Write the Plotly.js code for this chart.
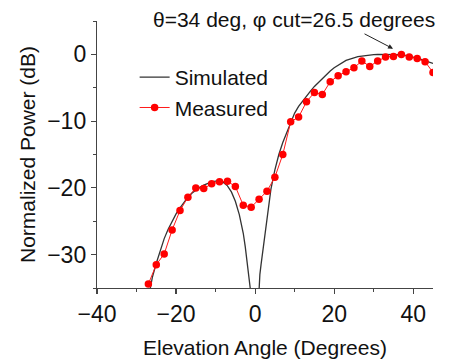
<!DOCTYPE html>
<html>
<head>
<meta charset="utf-8">
<script src="https://cdn.plot.ly/plotly-3.0.1.min.js"></script>
<style>html,body{margin:0;padding:0;background:#fff;}#chart{width:454px;height:360px;}</style>
</head>
<body>
<div id="chart"></div>
<script>
// Simulated pattern (continuous curve)
const simAngle = [-26.5,-26,-25,-24,-23,-22,-21,-20,-19,-18,-17,-16,-15,-14,-13,-12,-11,-10,-9,-8,-7,-6,-5,-4,-3,-2.5,-2,-1.5,-1.2,-0.8,-0.4,-0.2,0.2,0.6,0.9,1.2,1.5,2,2.5,3,3.5,4,5,6,7,8,9,10,11,12,13,14,15,16,17,18,19,20,21,22,23,24,25,26,27,28,29,30,31,32,33,34,35,36,37,38,39,40,41,42,43,44,45];
const simPower = [-35,-33.4,-31.3,-29.3,-27.6,-26.2,-25.0,-23.9,-23.0,-22.2,-21.4,-20.8,-20.3,-19.9,-19.6,-19.3,-19.1,-19.0,-19.0,-19.2,-19.7,-20.6,-22.0,-24.0,-26.8,-28.8,-31.0,-33.5,-35.2,-38,-44,-55,-50,-40,-35.2,-33,-31.5,-29.2,-26.5,-24.2,-22.0,-20.2,-17.3,-15.0,-13.2,-11.7,-10.2,-8.8,-7.8,-7.0,-6.2,-5.5,-4.8,-4.2,-3.6,-3.0,-2.5,-2.0,-1.6,-1.2,-0.9,-0.7,-0.5,-0.35,-0.25,-0.15,-0.08,-0.03,0,0,0,0,0,-0.02,-0.05,-0.15,-0.25,-0.4,-0.55,-0.75,-0.95,-1.15,-1.35];

// Measured points
const measAngle = [-27,-25,-23,-21,-19,-17,-15,-13,-11,-9,-7,-5,-3,-1,1,3,5,7,9,11,13,15,17,19,21,23,25,27,29,31,33,35,37,39,41,43,45];
const measPower = [-34.4,-31.5,-29.9,-26.3,-23.4,-21.4,-20.0,-20.1,-19.4,-19.1,-19.0,-19.8,-22.6,-22.9,-21.7,-20.5,-18.4,-15.0,-10.1,-9.4,-7.1,-5.7,-6.0,-4.1,-3.2,-2.6,-2.0,-1.0,-1.8,-1.0,-0.4,-0.3,0.0,-0.4,-0.6,-1.1,-2.7];

const seriesNames = ["Simulated", "Measured"];
const annText = "θ=34 deg, φ cut=26.5 degrees";

const FONT = "Liberation Sans, Arial, sans-serif";

const traces = [
  {
    x: simAngle, y: simPower, name: seriesNames[0], type: "scatter",
    mode: "lines",
    line: {color: "#333333", width: 1.3},
    cliponaxis: true
  },
  {
    x: measAngle, y: measPower, name: seriesNames[1], type: "scatter",
    mode: "lines+markers",
    line: {color: "#ff1a1a", width: 1},
    marker: {color: "#ff0000", size: 7.5, symbol: "circle"},
    cliponaxis: true
  }
];

const axisCommon = {
  showline: true, linecolor: "#444", linewidth: 1.2,
  showgrid: false, zeroline: false,
  ticks: "outside", ticklen: 5, tickwidth: 1.2, tickcolor: "#444",
  tickfont: {family: FONT, size: 23, color: "#111"},
  automargin: false
};

const layout = {
  width: 454, height: 360,
  margin: {l: 97, r: 21, t: 21, b: 72, pad: 0},
  paper_bgcolor: "#fff", plot_bgcolor: "#fff",
  font: {family: FONT, color: "#111"},
  showlegend: true,
  legend: {
    x: 0.112, y: 0.865, xanchor: "left", yanchor: "top",
    bgcolor: "rgba(0,0,0,0)", borderwidth: 0,
    font: {family: FONT, size: 21, color: "#111"},
    tracegroupgap: 0
  },
  xaxis: Object.assign({}, axisCommon, {
    range: [-40, 45], tickmode: "linear", tick0: -40, dtick: 20,
    minor: {dtick: 10, tick0: -40, ticks: "outside", ticklen: 3, tickwidth: 1, tickcolor: "#444"},
    title: {text: "Elevation Angle (Degrees)", font: {family: FONT, size: 21, color: "#111"}, standoff: 14}
  }),
  yaxis: Object.assign({}, axisCommon, {
    range: [-35, 5], tickmode: "linear", tick0: 0, dtick: 10,
    minor: {dtick: 5, tick0: 0, ticks: "outside", ticklen: 3, tickwidth: 1, tickcolor: "#444"},
    title: {text: "Normalized Power (dB)", font: {family: FONT, size: 21, color: "#111"}, standoff: 5}
  }),
  annotations: [
    {
      x: 0.587, y: 1.004, xref: "paper", yref: "paper", text: annText, showarrow: false,
      xanchor: "center", yanchor: "middle",
      font: {family: FONT, size: 21, color: "#111"}
    },
    {
      x: 34.9, y: 0.85, xref: "x", yref: "y", ax: 27.3, ay: 3.19, axref: "x", ayref: "y",
      text: "", showarrow: true, arrowhead: 2, arrowsize: 1, arrowwidth: 1, arrowcolor: "#222",
      standoff: 0, startstandoff: 0
    }
  ]
};

Plotly.newPlot("chart", traces, layout, {staticPlot: true, displayModeBar: false});
</script>
</body>
</html>
